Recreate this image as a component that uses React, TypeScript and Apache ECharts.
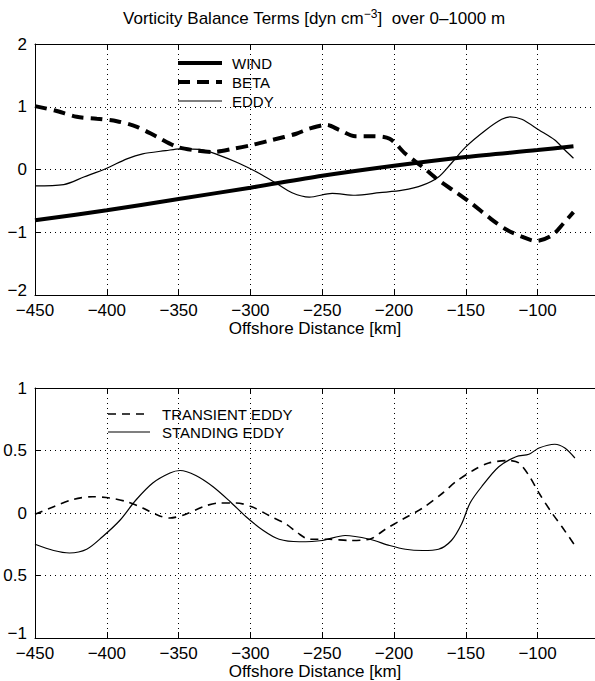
import React, { useEffect, useRef } from "react";
import * as echarts from "echarts";

// ---- data ----
const xTicks = [-450, -400, -350, -300, -250, -200, -150, -100];

const windX = [-450, -400, -350, -300, -250, -200, -150, -100, -75];
const windY = [-0.81, -0.65, -0.47, -0.29, -0.1, 0.06, 0.2, 0.31, 0.37];

const betaX = [-450, -436, -421, -407, -393, -379, -365, -351, -340, -326, -312, -299, -285, -268, -259, -247, -238, -227, -215, -203, -192, -180, -169, -157, -146, -134, -123, -111, -101, -90, -82, -75];
const betaY = [1.01, 0.94, 0.84, 0.81, 0.77, 0.68, 0.52, 0.36, 0.31, 0.28, 0.33, 0.39, 0.47, 0.57, 0.65, 0.71, 0.63, 0.53, 0.53, 0.49, 0.25, 0.04, -0.17, -0.36, -0.54, -0.76, -0.94, -1.07, -1.14, -1.05, -0.86, -0.68];

const eddyX = [-450, -430, -416, -400, -386, -375, -359, -349, -335, -322, -308, -294, -282, -271, -259, -243, -227, -210, -194, -180, -169, -160, -150, -136, -125, -119, -111, -99, -88, -81, -75];
const eddyY = [-0.26, -0.24, -0.12, 0.02, 0.17, 0.25, 0.3, 0.33, 0.32, 0.23, 0.1, -0.06, -0.22, -0.37, -0.44, -0.38, -0.41, -0.37, -0.33, -0.25, -0.12, 0.1, 0.36, 0.63, 0.8, 0.84, 0.8, 0.63, 0.47, 0.31, 0.18];

const transientX = [-450, -437, -423, -410, -398, -386, -375, -364, -356, -345, -333, -322, -310, -299, -287, -275, -267, -259, -245, -231, -217, -206, -194, -180, -166, -157, -145, -134, -120, -113, -106, -99, -90, -83, -74];
const transientY = [-0.01, 0.05, 0.11, 0.13, 0.12, 0.09, 0.04, -0.02, -0.04, -0.01, 0.05, 0.08, 0.08, 0.05, -0.02, -0.09, -0.16, -0.21, -0.21, -0.22, -0.21, -0.13, -0.05, 0.04, 0.16, 0.25, 0.34, 0.4, 0.42, 0.4, 0.3, 0.16, 0.0, -0.11, -0.26];

const standingX = [-450, -437, -426, -414, -403, -391, -380, -368, -356, -349, -338, -326, -314, -303, -291, -280, -266, -250, -234, -217, -203, -192, -180, -169, -160, -153, -147, -139, -127, -115, -106, -99, -88, -81, -74];
const standingY = [-0.25, -0.3, -0.32, -0.29, -0.19, -0.06, 0.1, 0.24, 0.32, 0.34, 0.3, 0.21, 0.09, -0.03, -0.14, -0.21, -0.23, -0.22, -0.18, -0.21, -0.26, -0.29, -0.3, -0.29, -0.22, -0.09, 0.08, 0.21, 0.37, 0.45, 0.47, 0.52, 0.55, 0.52, 0.44];

const topYLabels: Record<string, string> = { "2": "2", "1": "1", "0": "0", "-1": "\u22121", "-2": "\u22122" };
const bottomYLabels: Record<string, string> = { "1": "1", "0.5": "0.5", "0": "0", "-0.5": "0.5", "-1": "\u22121" };

const topLegendNames = ["WIND", "BETA", "EDDY"];
const bottomLegendNames = ["TRANSIENT EDDY", "STANDING EDDY"];

const FONT = '"Liberation Sans", Arial, Helvetica, sans-serif';
const zip = (xs: number[], ys: number[]) => xs.map((x, i) => [x, ys[i]]);
const minus = (v: number) => (v < 0 ? "\u2212" + Math.abs(v) : String(v));

const STYLES: Record<string, { width: number; dash?: number[] }> = {
  WIND: { width: 4 },
  BETA: { width: 4, dash: [12, 7] },
  EDDY: { width: 1.2 },
  "TRANSIENT EDDY": { width: 1.6, dash: [8, 6] },
  "STANDING EDDY": { width: 1.2 },
};

export default function App() {
  const ref = useRef<HTMLDivElement>(null);
  useEffect(() => {
    if (!ref.current) return;
    const chart = echarts.init(ref.current, undefined, { renderer: "svg" });
    const xMin = -450;
    const xMax = -60;
    const pxPerKm = 1.44;
    const gridW = (xMax - xMin) * pxPerKm;

    const baseX = (gi: number) => ({
      type: "value",
      gridIndex: gi,
      min: xMin,
      max: xMax,
      interval: 50,
      axisLine: { show: true, onZero: false, lineStyle: { color: "#000", width: 1 } },
      axisTick: { show: true, inside: true, length: 6, lineStyle: { color: "#000" } },
      axisLabel: {
        show: true,
        color: "#000",
        fontSize: 17,
        fontFamily: FONT,
        margin: 7,
        showMaxLabel: false,
        formatter: (v: number) => (xTicks.includes(v) ? minus(v) : ""),
      },
      splitLine: { show: true, lineStyle: { color: "#000", width: 1, type: [1, 4] } },
      name: "Offshore Distance [km]",
      nameLocation: "middle",
      nameGap: 25,
      nameTextStyle: { color: "#000", fontSize: 17, fontFamily: FONT },
    });
    const topX = (gi: number) => ({
      type: "value",
      gridIndex: gi,
      position: "top",
      min: xMin,
      max: xMax,
      interval: 50,
      axisLine: { show: true, onZero: false, lineStyle: { color: "#000", width: 1 } },
      axisTick: { show: true, inside: true, length: 6, lineStyle: { color: "#000" } },
      axisLabel: { show: false },
      splitLine: { show: false },
    });
    const baseY = (gi: number, min: number, max: number, interval: number, labels: Record<string, string>) => ({
      type: "value",
      gridIndex: gi,
      min,
      max,
      interval,
      axisLine: { show: true, onZero: false, lineStyle: { color: "#000", width: 1 } },
      axisTick: { show: true, inside: true, length: 6, lineStyle: { color: "#000" } },
      axisLabel: {
        color: "#000",
        fontSize: 17,
        fontFamily: FONT,
        margin: 8,
        formatter: (v: number) => {
          const t = labels[String(v)] ?? "";
          return v === min ? "{lo|" + t + "}" : t;
        },
        rich: {
          lo: { fontSize: 17, fontFamily: FONT, color: "#000", padding: [0, 0, 9, 0] },
        },
      },
      splitLine: { show: true, lineStyle: { color: "#000", width: 1, type: [1, 4] } },
    });

    const legendGraphic = (names: string[], x1: number, x2: number, textX: number, y0: number, dy: number) =>
      names.flatMap((n, i) => {
        const s = STYLES[n];
        const y = y0 + i * dy;
        return [
          {
            type: "line",
            shape: { x1, y1: y, x2, y2: y },
            style: { stroke: "#000", lineWidth: s.width, lineDash: s.dash ?? null },
            silent: true,
          },
          {
            type: "text",
            x: textX,
            y,
            style: {
              text: n,
              fontSize: 15,
              fontFamily: FONT,
              fill: "#000",
              verticalAlign: "middle",
              textVerticalAlign: "middle",
            },
            silent: true,
          },
        ];
      });

    const option: any = {
      animation: false,
      backgroundColor: "#fff",
      graphic: [
        {
          type: "text",
          x: 314,
          y: 18,
          style: {
            text: "{a|Vorticity Balance Terms [dyn cm}{s|\u22123}{a|]  over 0\u20131000 m}",
            textAlign: "center",
            align: "center",
            textVerticalAlign: "middle",
            verticalAlign: "middle",
            rich: {
              a: { fontSize: 17, fontFamily: FONT, fill: "#000", color: "#000" },
              s: { fontSize: 12, fontFamily: FONT, fill: "#000", color: "#000", padding: [0, 0, 9, 0] },
            },
          },
        },
        ...legendGraphic(topLegendNames, 178, 222, 232, 63, 19),
        ...legendGraphic(bottomLegendNames, 108, 150, 162, 414, 18),
      ],
      grid: [
        { left: 35, top: 44, width: gridW, height: 251, containLabel: false },
        { left: 35, top: 388, width: gridW, height: 250, containLabel: false },
      ],
      xAxis: [baseX(0), baseX(1), topX(0), topX(1)],
      yAxis: [baseY(0, -2, 2, 1, topYLabels), baseY(1, -1, 1, 0.5, bottomYLabels)],
      series: [
        { name: "WIND", x: windX, y: windY, axis: 0 },
        { name: "BETA", x: betaX, y: betaY, axis: 0 },
        { name: "EDDY", x: eddyX, y: eddyY, axis: 0 },
        { name: "TRANSIENT EDDY", x: transientX, y: transientY, axis: 1 },
        { name: "STANDING EDDY", x: standingX, y: standingY, axis: 1 },
      ].map((s) => ({
        type: "line",
        name: s.name,
        xAxisIndex: s.axis,
        yAxisIndex: s.axis,
        data: zip(s.x, s.y),
        symbol: "none",
        smooth: 0.3,
        lineStyle: { color: "#000", width: STYLES[s.name].width, type: STYLES[s.name].dash ?? "solid" },
        itemStyle: { color: "#000" },
      })),
    };
    chart.setOption(option);
    return () => chart.dispose();
  }, []);

  return (
    <div
      ref={ref}
      style={{ position: "absolute", left: 0, top: 0, width: 595, height: 681, background: "#fff" }}
    />
  );
}
